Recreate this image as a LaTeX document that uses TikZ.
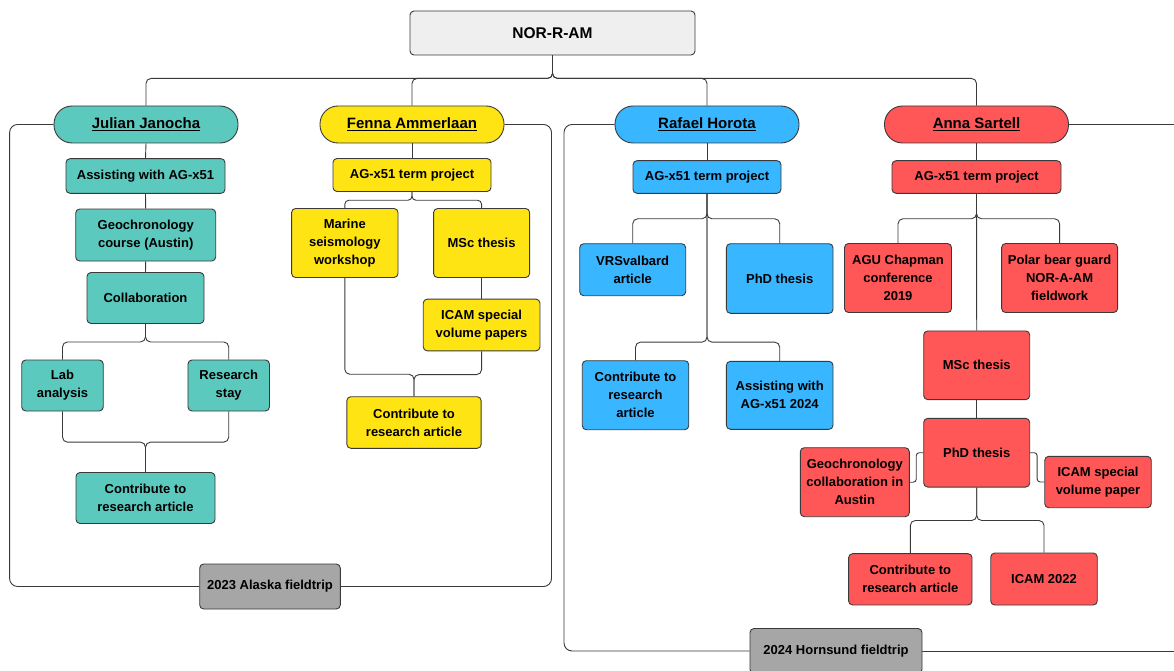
\documentclass[tikz,border=0pt]{standalone}
\usepackage{fontspec}
\setmainfont{Liberation Sans}
\definecolor{tealc}{HTML}{5CC9BE}
\definecolor{yellowc}{HTML}{FFE414}
\definecolor{bluec}{HTML}{38B6FF}
\definecolor{redc}{HTML}{FF5757}
\definecolor{tripc}{HTML}{A6A6A6}
\definecolor{rootc}{HTML}{EFEFEF}
\definecolor{linec}{HTML}{3A3A3A}
\pgfdeclarelayer{bg}
\pgfsetlayers{bg,main}
\begin{document}
\begin{tikzpicture}[x=1pt, y=-1pt,
  line/.style = {draw=linec, line width=0.9pt, rounded corners=5pt},
  box/.style = {draw=linec, line width=0.9pt, rounded corners=4pt, align=center, inner sep=0pt,
    font=\fontsize{13}{18}\selectfont\bfseries},
  person/.style = {box, rounded corners=18pt, minimum width=184pt, minimum height=37pt,
    font=\fontsize{15}{17}\selectfont\bfseries},
  trip/.style = {box, fill=tripc, minimum height=45pt}]
\useasboundingbox (0,0) rectangle (1174,671);
% root
\node[box, fill=rootc, minimum width=285pt, minimum height=44pt, font=\fontsize{15.5}{17}\selectfont\bfseries] (root) at (552.5,33) {NOR-R-AM};
% people
\node[person, fill=tealc] (jj) at (146,124.5) {\underline{Julian Janocha}};
\node[person, fill=yellowc] (fa) at (412,124.5) {\underline{Fenna Ammerlaan}};
\node[person, fill=bluec] (rh) at (707,124.5) {\underline{Rafael Horota}};
\node[person, fill=redc] (as) at (976.5,124.5) {\underline{Anna Sartell}};
% Julian
\node[box, fill=tealc, minimum width=159pt, minimum height=34.6pt] (j1) at (145.5,176) {Assisting with AG-x51};
\node[box, fill=tealc, minimum width=140pt, minimum height=52pt] (j2) at (145.7,235) {Geochronology\\course (Austin)};
\node[box, fill=tealc, minimum width=117pt, minimum height=51pt] (j3) at (145.5,298) {Collaboration};
\node[box, fill=tealc, minimum width=81.5pt, minimum height=51pt] (j4) at (62.5,385.5) {Lab\\analysis};
\node[box, fill=tealc, minimum width=81.5pt, minimum height=51pt] (j5) at (228.7,385.5) {Research\\stay};
\node[box, fill=tealc, minimum width=139pt, minimum height=51pt] (j6) at (145.5,498) {Contribute to\\research article};
\node[trip, minimum width=140.6pt] (jtrip) at (270,586.5) {2023 Alaska fieldtrip};
% Fenna
\node[box, fill=yellowc, minimum width=158pt, minimum height=33pt] (f1) at (412,175) {AG-x51 term project};
\node[box, fill=yellowc, minimum width=106.4pt, minimum height=69pt] (f2) at (344.8,243) {Marine\\seismology\\workshop};
\node[box, fill=yellowc, minimum width=96pt, minimum height=69pt] (f3) at (481.6,243) {MSc thesis};
\node[box, fill=yellowc, minimum width=116.7pt, minimum height=51.7pt] (f4) at (481.6,325) {ICAM special\\volume papers};
\node[box, fill=yellowc, minimum width=134.3pt, minimum height=51.6pt] (f5) at (414,422.5) {Contribute to\\research article};
% Rafael
\node[box, fill=bluec, minimum width=148pt, minimum height=32.6pt] (r1) at (707,177) {AG-x51 term project};
\node[box, fill=bluec, minimum width=106pt, minimum height=52pt] (r2) at (632.7,269.7) {VRSvalbard\\article};
\node[box, fill=bluec, minimum width=106.6pt, minimum height=69.6pt] (r3) at (779.7,278.5) {PhD thesis};
\node[box, fill=bluec, minimum width=106.5pt, minimum height=69pt] (r4) at (635.5,395.2) {Contribute to\\research\\article};
\node[box, fill=bluec, minimum width=106.6pt, minimum height=68pt] (r5) at (779.7,395.3) {Assisting with\\AG-x51 2024};
\node[trip, minimum width=172pt] (rtrip) at (836,651) {2024 Hornsund fieldtrip};
% Anna
\node[box, fill=redc, minimum width=169pt, minimum height=32.6pt] (a1) at (976.5,177) {AG-x51 term project};
\node[box, fill=redc, minimum width=107pt, minimum height=69pt] (a2) at (898,278) {AGU Chapman\\conference\\2019};
\node[box, fill=redc, minimum width=116pt, minimum height=69pt] (a3) at (1059.6,278) {Polar bear guard\\NOR-A-AM\\fieldwork};
\node[box, fill=redc, minimum width=106pt, minimum height=68.7pt] (a4) at (976.7,365.3) {MSc thesis};
\node[box, fill=redc, minimum width=106pt, minimum height=68.7pt] (a5) at (976.7,452.7) {PhD thesis};
\node[box, fill=redc, minimum width=109pt, minimum height=69pt] (a6) at (854.8,482.2) {Geochronology\\collaboration in\\Austin};
\node[box, fill=redc, minimum width=106.5pt, minimum height=51.4pt] (a7) at (1098,482) {ICAM special\\volume paper};
\node[box, fill=redc, minimum width=123.4pt, minimum height=51.3pt] (a8) at (910.3,579.3) {Contribute to\\research article};
\node[box, fill=redc, minimum width=106.5pt, minimum height=52pt] (a9) at (1044,579) {ICAM 2022};
\begin{pgfonlayer}{bg}
% root to people
\foreach \p in {jj,fa,rh,as}
  \draw[line] (root.south) -- ++(0,23) -| (\p.north);
% fieldtrip frames
\draw[line, rounded corners=8pt] (jj.west) -- (9.6,124.5) |- (jtrip.west);
\draw[line, rounded corners=8pt] (fa.east) -- (551.5,124.5) |- (jtrip.east);
\draw[line, rounded corners=8pt] (rh.west) -- (564,124.5) |- (rtrip.west);
\draw[line] (as.east) -- (1174,124.5);
\draw[line] (rtrip.east) -- (1174,651);
% Julian
\draw[line] (jj.south) -- (j1.north);
\draw[line] (j1.south) -- (j2.north);
\draw[line] (j2.south) -- (j3.north);
\draw[line] (j3.south) -- ++(0,18) -| (j4.north);
\draw[line] (j3.south) -- ++(0,18) -| (j5.north);
\draw[line] (j4.south) -- ++(0,30.7) -| (j6.north);
\draw[line] (j5.south) -- ++(0,30.7) -| (j6.north);
% Fenna
\draw[line] (fa.south) -- (f1.north);
\draw[line, rounded corners=4pt] (f1.south) -- ++(0,8.3) -| (f2.north);
\draw[line, rounded corners=4pt] (f1.south) -- ++(0,8.3) -| (f3.north);
\draw[line] (f3.south) -- (f4.north);
\draw[line] (f2.south) -- ++(0,96.3) -| (f5.north);
\draw[line] (f4.south) -- ++(0,23.3) -| (f5.north);
% Rafael
\draw[line] (rh.south) -- (r1.north);
\draw[line] (r1.south) -- ++(0,25) -| (r2.north);
\draw[line] (r1.south) -- ++(0,25) -| (r3.north);
\draw[line] (r1.south) -- ++(0,148.4) -| (r4.north);
\draw[line] (r1.south) -- ++(0,148.4) -| (r5.north);
% Anna
\draw[line] (as.south) -- (a1.north);
\draw[line] (a1.south) -- ++(0,25) -| (a2.north);
\draw[line] (a1.south) -- ++(0,25) -| (a3.north);
\draw[line] (a1.south) -- (a4.north);
\draw[line] (a4.south) -- (a5.north);
\draw[line, rounded corners=3pt] (a5.west) -- ++(-7,0) |- (a6.east);
\draw[line, rounded corners=3pt] (a5.east) -- ++(7,0) |- (a7.west);
\draw[line] (a5.south) -- ++(0,33) -| (a8.north);
\draw[line] (a5.south) -- ++(0,33) -| (a9.north);
\end{pgfonlayer}
\end{tikzpicture}
\end{document}
